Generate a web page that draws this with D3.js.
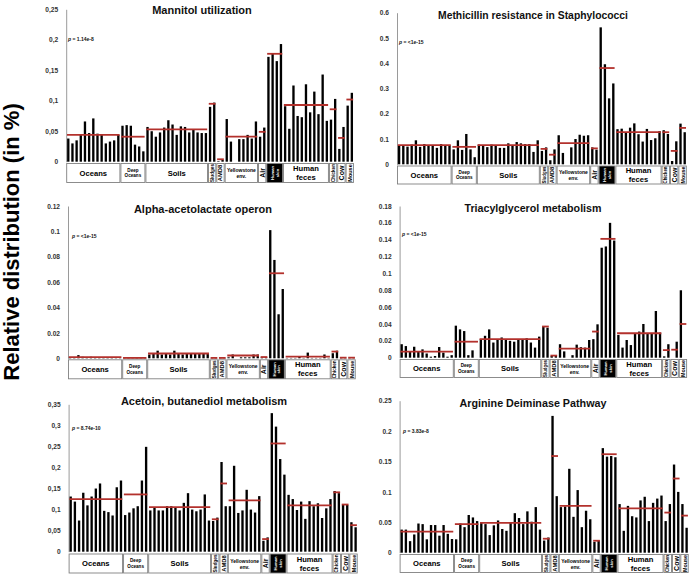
<!DOCTYPE html>
<html><head><meta charset="utf-8">
<script src="https://cdn.jsdelivr.net/npm/d3@7/dist/d3.min.js"></script>
<style>body{margin:0;background:#fff}svg{display:block}</style>
</head><body>
<svg id="chart" width="699" height="580"></svg>
<script>
// ---------------- DATA ----------------
const sampleGroups = ["Oceans","Deep Oceans","Soils","Sludges","AMD8","Yellowstone env.","Air","Human skin","Human feces","Chicken","Cow","Mouse"];
const groupSizes   = [13, 6, 15, 2, 2, 8, 2, 4, 11, 2, 2, 2];

const panelTitles = ["Mannitol utilization","Methicillin resistance in Staphylococci","Alpha-acetolactate operon","Triacylglycerol metabolism","Acetoin, butanediol metabolism","Arginine Deiminase Pathway"];
const pValues = ["1.14e-8","<1e-15","<1e-15","<1e-15","8.74e-10","3.83e-8"];

const mannitol = [
  0.038,0.030,0.035,0.045,0.066,0.047,0.071,0.046,0.044,0.030,0.033,0.035,0.044,
  0.059,0.060,0.059,0.028,0.025,0.017,
  0.057,0.050,0.041,0.048,0.056,0.068,0.061,0.044,0.058,0.057,0.048,0.052,0.048,0.047,0.047,
  0.090,0.097,
  0.001,0.003,
  0.070,0.033,0,0.037,0.037,0.044,0.038,0.066,
  0.041,0.056,
  0.172,0.178,0.165,0.193,
  0.091,0.054,0.125,0.075,0.073,0.127,0.081,0.115,0.078,0.143,0.067,
  0.069,0.103,
  0.021,0.057,
  0.092,0.113];
const mannitolMeans = [0.044,0.041,0.053,0.095,0.004,0.041,0.049,0.177,0.093,0.086,0.039,0.102];

const methicillin = [
  0.073,0.075,0.070,0.078,0.095,0.069,0.080,0.075,0.075,0.065,0.080,0.075,0.075,
  0.059,0.095,0.057,0.120,0.059,0.028,
  0.078,0.075,0.068,0.078,0.075,0.065,0.065,0.083,0.075,0.088,0.083,0.080,0.080,0.049,0.095,
  0.053,0.067,
  0.016,0.059,
  0.115,0.045,0,0.067,0.100,0.117,0.113,0.115,
  0.067,0.058,
  0.542,0.396,0.261,0.320,
  0.139,0.141,0.127,0.145,0.162,0.119,0.090,0.140,0.096,0.103,0.131,
  0.135,0.120,
  0.013,0.091,
  0.161,0.127];
const methicillinMeans = [0.076,0.069,0.076,0.061,0.038,0.084,0.063,0.381,0.127,0.127,0.053,0.144];

const alphaAcetolactate = [
  0.0008,0.0006,0.0025,0.0012,0.0010,0.0012,0.0008,0.0006,0.0003,0.0006,0.0003,0.0002,0.0002,
  0.0002,0.0003,0.0002,0.0003,0.0002,0.0002,
  0.003,0.004,0.006,0.003,0.004,0.003,0.006,0.004,0.003,0.0035,0.0035,0.0035,0.0035,0.0035,0.0035,
  0.0002,0.0003,
  0.0002,0.0002,
  0.0008,0.003,0,0.0008,0.0008,0.0008,0.003,0.003,
  0.0008,0.0008,
  0.101,0.0775,0.0347,0.0546,
  0.0003,0.0003,0.0003,0.0012,0.0003,0.0045,0.0003,0.0003,0.0003,0.003,0.0003,
  0.004,0.006,
  0.0003,0.0003,
  0.0003,0.0003];
const alphaAcetolactateMeans = [0.0009,0.0003,0.0038,0.0003,0.0003,0.0022,0.001,0.067,0.0013,0.0053,0.0005,0.0005];

const triacylglycerol = [
  0.016,0.0138,0.0075,0.013,0.0075,0.0099,0.005,0.0012,0.002,0.0127,0.006,0.0012,0.003,
  0.038,0.0336,0.0316,0.003,0.0087,0,
  0.022,0.026,0.0336,0.018,0.022,0.024,0.021,0.020,0.019,0.021,0.022,0.023,0.018,0.012,0.025,
  0.037,0.0356,
  0.002,0.003,
  0.016,0.0075,0,0.003,0.0155,0.0125,0.012,0.021,
  0.022,0.0396,
  0.1305,0.132,0.160,0.139,
  0.027,0.012,0.021,0.015,0.0285,0.031,0.040,0.029,0.029,0.0554,0.0297,
  0.0016,0.016,
  0,0.019,
  0.080,0];
const triacylglycerolMeans = [0.0071,0.019,0.022,0.037,0.0025,0.0107,0.031,0.141,0.029,0.009,0.0095,0.040];

const acetoin = [
  0.131,0.119,0.074,0.140,0.110,0.131,0.150,0.162,0.097,0.094,0.086,0.153,0.169,
  0.087,0.093,0.103,0.108,0.169,0.249,
  0.098,0.104,0.098,0.098,0.108,0.108,0.106,0.098,0.116,0.139,0.100,0.096,0.100,0.136,0.074,
  0.073,0.081,
  0.213,0.108,
  0.108,0.204,0.092,0.098,0.147,0.100,0.093,0.132,
  0.026,0.034,
  0.329,0.297,0.220,0.183,
  0.135,0.125,0.099,0.119,0.078,0.120,0.108,0.115,0.080,0.103,0.125,
  0.144,0.139,
  0.112,0.111,
  0.070,0.058];
const acetoinMeans = [0.125,0.136,0.106,0.077,0.162,0.122,0.030,0.257,0.110,0.141,0.112,0.063];

const arginine = [
  0.038,0.038,0.019,0.030,0.048,0.047,0.022,0.0455,0.0455,0.028,0.0455,0.031,0.0225,
  0.022,0.048,0.042,0.062,0.058,0.052,
  0.049,0.047,0.029,0.045,0.053,0.039,0.036,0.049,0.065,0.057,0.047,0.068,0.051,0.075,0.038,
  0.020,0.025,
  0.225,0.093,
  0.075,0.076,0.138,0.059,0.103,0.042,0.069,0.055,
  0.018,0.020,
  0.172,0.158,0.159,0.157,
  0.080,0.036,0.077,0.060,0.058,0.086,0.092,0.052,0.082,0.089,0.094,
  0.052,0.080,
  0.145,0.100,
  0.080,0.041];
const arginineMeans = [0.0345,0.047,0.049,0.023,0.159,0.077,0.0197,0.162,0.073,0.066,0.122,0.061];

const ticks1 = [0,0.05,0.1,0.15,0.2,0.25];            const tickLabels1 = ["0","0,05","0,1","0,15","0,2","0,25"];
const ticks2 = [0,0.1,0.2,0.3,0.4,0.5,0.6];          const tickLabels2 = ["0","0.1","0.2","0.3","0.4","0.5","0.6"];
const ticks3 = [0,0.02,0.04,0.06,0.08,0.1,0.12];     const tickLabels3 = ["0","0.02","0.04","0.06","0.08","0.1","0.12"];
const ticks4 = [0,0.02,0.04,0.06,0.08,0.1,0.12,0.14,0.16,0.18]; const tickLabels4 = ["0","0.02","0.04","0.06","0.08","0.1","0.12","0.14","0.16","0.18"];
const ticks5 = [0,0.05,0.1,0.15,0.2,0.25,0.3,0.35];  const tickLabels5 = ["0","0,05","0,1","0,15","0,2","0,25","0,3","0,35"];
const ticks6 = [0,0.05,0.1,0.15,0.2,0.25];           const tickLabels6 = ["0","0.05","0.1","0.15","0.2","0.25"];

const yAxisTitle = "Relative distribution (in %)";

// ---------------- LAYOUT ----------------
const FONT = "'Liberation Sans', Arial, sans-serif";
const panels = [
  {values: mannitol, means: mannitolMeans, ticks: ticks1, labels: tickLabels1, x0: 66.2, step: 4.17, y0: 161.7, y1: 9.3, boxTop: 163, boxH: 20, titleX: 202, titleY: 14, titleW: 100, pX: 68, pY: 41},
  {values: methicillin, means: methicillinMeans, ticks: ticks2, labels: tickLabels2, x0: 397, step: 4.2, y0: 164.3, y1: 12.7, boxTop: 165.5, boxH: 19, titleX: 533, titleY: 19, titleW: 190, pX: 399, pY: 44},
  {values: alphaAcetolactate, means: alphaAcetolactateMeans, ticks: ticks3, labels: tickLabels3, x0: 68, step: 4.17, y0: 358.3, y1: 206, boxTop: 359.3, boxH: 20, titleX: 203, titleY: 213, titleW: 140, pX: 72, pY: 237.5},
  {values: triacylglycerol, means: triacylglycerolMeans, ticks: ticks4, labels: tickLabels4, x0: 399.6, step: 4.167, y0: 357.7, y1: 206, boxTop: 359, boxH: 19, titleX: 533, titleY: 212, titleW: 137, pX: 402, pY: 236},
  {values: acetoin, means: acetoinMeans, ticks: ticks5, labels: tickLabels5, x0: 68.6, step: 4.19, y0: 551.7, y1: 404.3, boxTop: 553.5, boxH: 20, titleX: 204, titleY: 404.7, titleW: 167, pX: 72, pY: 430},
  {values: arginine, means: arginineMeans, ticks: ticks6, labels: tickLabels6, x0: 399.6, step: 4.19, y0: 552.7, y1: 400.7, boxTop: 554, boxH: 19, titleX: 533, titleY: 407, titleW: 147, pX: 403, pY: 432.5}
];

const labelStyle = {
  "Oceans": {rot:false, lines:["Oceans"], fs:7.6},
  "Deep Oceans": {rot:false, lines:["Deep","Oceans"], fs:4.6, lh:5.6},
  "Soils": {rot:false, lines:["Soils"], fs:7.6},
  "Sludges": {rot:true, lines:["Sludges"], fs:5.6},
  "AMD8": {rot:true, lines:["AMD8"], fs:5.8},
  "Yellowstone env.": {rot:false, lines:["Yellowstone","env."], fs:5, lh:6},
  "Air": {rot:true, lines:["Air"], fs:7},
  "Human skin": {rot:true, lines:["Human","skin"], fs:4.2, lh:4.6, dark:true},
  "Human feces": {rot:false, lines:["Human","feces"], fs:7.6, lh:9},
  "Chicken": {rot:true, lines:["Chicken"], fs:4.8},
  "Cow": {rot:true, lines:["Cow"], fs:7},
  "Mouse": {rot:true, lines:["Mouse"], fs:5.5}
};

const MEAN_COLOR = "#b3312c";
const svg = d3.select("#chart");
const nSamples = d3.sum(groupSizes);
const groupStarts = groupSizes.map((s,i) => d3.sum(groupSizes.slice(0,i)));

panels.forEach((P, pi) => {
  const g = svg.append("g");
  const x = d3.scaleBand().domain(d3.range(nSamples))
      .range([P.x0, P.x0 + nSamples * P.step]).paddingInner(0.44).paddingOuter(0.22);
  const y = d3.scaleLinear().domain([0, d3.max(P.ticks)]).range([P.y0, P.y1]);
  const half = (x.step() - x.bandwidth()) / 2;

  // axis
  const ax = g.append("g").attr("transform", `translate(${P.x0},0)`)
    .call(d3.axisLeft(y).tickValues(P.ticks).tickFormat((d,i) => P.labels[i]).tickSize(0).tickSizeOuter(0).tickPadding(8));
  ax.select(".domain").attr("stroke", "#9a9a9a").attr("stroke-width", 1);
  ax.selectAll("text").attr("font-family", FONT).attr("font-size", 6.6).attr("font-weight", "bold").attr("fill", "#333");

  // bars
  g.append("g").selectAll("rect")
    .data(P.values.map((v,i) => ({v, i})).filter(d => d.v > 0))
    .join("rect")
    .attr("x", d => x(d.i)).attr("width", x.bandwidth())
    .attr("y", d => y(d.v)).attr("height", d => y(0) - y(d.v))
    .attr("fill", "#000");

  // group boxes + mean lines
  const boxes = g.append("g");
  sampleGroups.forEach((name, gi) => {
    const s = groupStarts[gi], e = s + groupSizes[gi] - 1;
    const bx0 = x(s) - half, bx1 = x(e) + x.bandwidth() + half;
    const st = labelStyle[name];
    boxes.append("rect").attr("x", bx0 + 0.5).attr("y", P.boxTop + 0.5)
      .attr("width", bx1 - bx0 - 1).attr("height", P.boxH - 1)
      .attr("fill", st.dark ? "#000" : "#fff").attr("stroke", "#808080").attr("stroke-width", 0.9);
    const cx = (bx0 + bx1) / 2, cy = P.boxTop + P.boxH / 2;
    const tg = boxes.append("g").attr("transform", st.rot ? `translate(${cx},${cy}) rotate(-90)` : `translate(${cx},${cy})`);
    const n = st.lines.length, lh = st.lh || st.fs;
    st.lines.forEach((ln, li) => {
      const t = tg.append("text").attr("x", 0).attr("y", (li - (n - 1) / 2) * lh)
        .attr("text-anchor", "middle").attr("dominant-baseline", "central")
        .attr("font-family", FONT).attr("font-weight", "bold").attr("font-size", st.fs)
        .attr("fill", st.dark ? "#fff" : "#000").text(ln);
      const maxLen = st.rot ? P.boxH - 2 : (bx1 - bx0 - 2);
      const len = t.node().getComputedTextLength();
      if (len > maxLen) t.attr("textLength", maxLen).attr("lengthAdjust", "spacingAndGlyphs");
    });

    g.append("line").attr("x1", bx0 + 0.8).attr("x2", bx1 - 0.8)
      .attr("y1", y(P.means[gi])).attr("y2", y(P.means[gi]))
      .attr("stroke", MEAN_COLOR).attr("stroke-width", 1.8);
  });

  // title
  const tt = g.append("text").attr("x", P.titleX).attr("y", P.titleY).attr("text-anchor", "middle")
    .attr("font-family", FONT).attr("font-weight", "bold").attr("font-size", 11).attr("fill", "#111")
    .text(panelTitles[pi]);
  if (tt.node().getComputedTextLength() > P.titleW)
    tt.attr("textLength", P.titleW).attr("lengthAdjust", "spacingAndGlyphs");

  // p value
  const pt = g.append("text").attr("x", P.pX).attr("y", P.pY)
    .attr("font-family", FONT).attr("font-weight", "bold").attr("font-size", 5).attr("fill", "#111");
  pt.append("tspan").attr("font-style", "italic").text("p");
  pt.append("tspan").text(" = " + pValues[pi]);
});

// y axis title
svg.append("text").attr("transform", "translate(19,242) rotate(-90)")
  .attr("text-anchor", "middle").attr("font-family", FONT).attr("font-weight", "bold")
  .attr("font-size", 22).attr("fill", "#000").text(yAxisTitle);
</script>
</body></html>
